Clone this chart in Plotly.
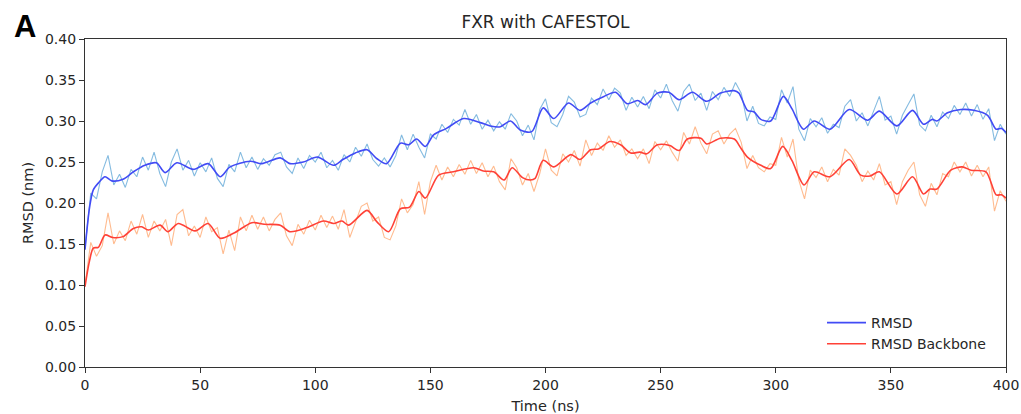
import plotly.graph_objects as go

# ---------------- data ----------------
raw_time = [i * 2.5 for i in range(161)]

rmsd_raw = [
    0.145, 0.212, 0.205, 0.238, 0.258, 0.222, 0.235, 0.219, 0.241, 0.232,
    0.256, 0.240, 0.262, 0.236, 0.220, 0.250, 0.266, 0.240, 0.252, 0.233,
    0.249, 0.238, 0.255, 0.230, 0.220, 0.247, 0.238, 0.262, 0.243, 0.256,
    0.241, 0.254, 0.246, 0.259, 0.262, 0.244, 0.236, 0.255, 0.242, 0.258,
    0.250, 0.262, 0.243, 0.252, 0.240, 0.259, 0.250, 0.268, 0.257, 0.272,
    0.253, 0.245, 0.255, 0.244, 0.258, 0.283, 0.265, 0.284, 0.268, 0.255,
    0.284, 0.278, 0.296, 0.286, 0.302, 0.295, 0.314, 0.296, 0.308, 0.290,
    0.301, 0.288, 0.299, 0.290, 0.309, 0.300, 0.282, 0.295, 0.277, 0.314,
    0.327, 0.298, 0.293, 0.308, 0.330, 0.323, 0.305, 0.308, 0.328, 0.320,
    0.339, 0.326, 0.340, 0.334, 0.313, 0.329, 0.317, 0.330, 0.315, 0.338,
    0.328, 0.345, 0.325, 0.312, 0.336, 0.345, 0.325, 0.334, 0.313, 0.336,
    0.326, 0.341, 0.330, 0.347, 0.334, 0.300, 0.318, 0.297, 0.294, 0.305,
    0.302, 0.338, 0.322, 0.342, 0.290, 0.276, 0.303, 0.293, 0.304, 0.285,
    0.296, 0.292, 0.318, 0.326, 0.300, 0.310, 0.294, 0.313, 0.330, 0.301,
    0.306, 0.284, 0.307, 0.320, 0.333, 0.295, 0.288, 0.307, 0.293, 0.311,
    0.303, 0.319, 0.308, 0.322, 0.306, 0.320, 0.302, 0.315, 0.276, 0.296,
    0.284,
]

backbone_raw = [
    0.100, 0.152, 0.135, 0.148, 0.188, 0.150, 0.166, 0.154, 0.178, 0.162,
    0.186, 0.158, 0.178, 0.166, 0.180, 0.148, 0.186, 0.192, 0.160, 0.172,
    0.158, 0.183, 0.165, 0.170, 0.138, 0.167, 0.142, 0.183, 0.166, 0.185,
    0.168, 0.183, 0.166, 0.180, 0.188, 0.160, 0.148, 0.174, 0.162, 0.179,
    0.167, 0.185, 0.170, 0.184, 0.168, 0.192, 0.158, 0.176, 0.196, 0.200,
    0.178, 0.183, 0.158, 0.155, 0.172, 0.205, 0.188, 0.198, 0.226, 0.186,
    0.226, 0.246, 0.228, 0.244, 0.232, 0.247, 0.235, 0.252, 0.236, 0.249,
    0.232, 0.245, 0.226, 0.216, 0.254, 0.243, 0.222, 0.236, 0.214, 0.236,
    0.266, 0.240, 0.233, 0.260, 0.250, 0.264, 0.245, 0.277, 0.258, 0.273,
    0.264, 0.282, 0.268, 0.277, 0.258, 0.266, 0.254, 0.266, 0.248, 0.275,
    0.265, 0.276, 0.262, 0.251, 0.286, 0.272, 0.293, 0.273, 0.260, 0.284,
    0.288, 0.272, 0.284, 0.291, 0.274, 0.242, 0.258, 0.243, 0.238, 0.248,
    0.246, 0.280, 0.256, 0.278, 0.228, 0.205, 0.240, 0.231, 0.244, 0.226,
    0.241, 0.234, 0.266, 0.258, 0.246, 0.226, 0.239, 0.228, 0.248, 0.222,
    0.226, 0.198, 0.226, 0.240, 0.250, 0.210, 0.196, 0.224, 0.210, 0.236,
    0.232, 0.250, 0.238, 0.250, 0.233, 0.246, 0.232, 0.244, 0.190, 0.215,
    0.202,
]

rmsd_smooth_time = [
    0, 2, 3.6, 6, 8.7, 11.6, 16.5, 21, 26, 31, 34.8, 39.9, 47, 53.5, 58.7,
    63, 71.7, 76.8, 84.8, 89, 94.8, 101, 108, 112, 117.4, 122.5, 126.8, 131,
    137, 140.6, 144, 147.8, 151.4, 157, 164.5, 171.7, 176, 180.4, 184.8, 189,
    194, 199, 203.6, 210, 215, 219.6, 225.4, 230.4, 235.5, 240, 243.5, 248.6,
    253.6, 258, 263.8, 270, 276, 281.9, 284, 287.7, 290.6, 293.5, 297.8,
    303.3, 307, 312, 316.7, 323.6, 331.9, 339.9, 345, 352.6, 359.4, 364.2,
    368, 370, 374.6, 380.4, 386, 392, 395.7, 398, 400,
]
rmsd_smooth = [
    0.143, 0.195, 0.216, 0.225, 0.232, 0.227, 0.229, 0.238, 0.246, 0.249,
    0.237, 0.249, 0.241, 0.248, 0.232, 0.244, 0.251, 0.248, 0.255, 0.248,
    0.250, 0.256, 0.246, 0.253, 0.261, 0.265, 0.254, 0.248, 0.273, 0.271,
    0.278, 0.269, 0.283, 0.291, 0.303, 0.298, 0.294, 0.293, 0.300, 0.289,
    0.287, 0.316, 0.303, 0.322, 0.313, 0.322, 0.330, 0.335, 0.321, 0.325,
    0.320, 0.334, 0.335, 0.326, 0.335, 0.324, 0.334, 0.337, 0.334, 0.313,
    0.311, 0.302, 0.300, 0.330, 0.315, 0.290, 0.300, 0.290, 0.314, 0.301,
    0.312, 0.294, 0.313, 0.296, 0.302, 0.300, 0.310, 0.314, 0.313, 0.307,
    0.290, 0.291, 0.286,
]

backbone_smooth_time = [
    0, 2, 3.6, 5.8, 8.7, 12, 16.5, 21, 24.6, 27.5, 32.6, 36, 40.5, 47.8,
    53.5, 58.7, 64.5, 72.5, 77.8, 84.8, 89, 96.4, 103.6, 108, 111.6, 114.5,
    122.5, 126.8, 131.9, 137, 141, 145, 147.8, 153.6, 160, 168.8, 173, 177.5,
    182, 185.5, 190, 193.5, 195.5, 199, 203.6, 211, 215, 219.6, 223, 228,
    232.6, 237, 241, 244, 248.6, 254, 258, 261.6, 267.5, 270, 276, 282,
    284.8, 287.7, 293.5, 297.8, 303, 307, 312.3, 316.7, 323.6, 331.9, 336.9,
    341, 345, 352.6, 359.4, 364.2, 367, 370, 376, 381, 384.8, 391.3, 395.7,
    398, 400,
]
backbone_smooth = [
    0.098, 0.130, 0.145, 0.146, 0.161, 0.158, 0.159, 0.169, 0.171, 0.167,
    0.173, 0.165, 0.175, 0.166, 0.175, 0.157, 0.163, 0.176, 0.174, 0.173,
    0.165, 0.170, 0.178, 0.175, 0.178, 0.173, 0.191, 0.177, 0.165, 0.193,
    0.195, 0.214, 0.206, 0.234, 0.238, 0.243, 0.239, 0.238, 0.228, 0.243,
    0.231, 0.228, 0.230, 0.252, 0.244, 0.259, 0.253, 0.265, 0.266, 0.275,
    0.271, 0.261, 0.262, 0.260, 0.271, 0.270, 0.264, 0.278, 0.279, 0.272,
    0.279, 0.278, 0.267, 0.256, 0.246, 0.242, 0.269, 0.252, 0.222, 0.238,
    0.232, 0.253, 0.234, 0.233, 0.238, 0.211, 0.232, 0.211, 0.217, 0.217,
    0.240, 0.244, 0.240, 0.238, 0.210, 0.210, 0.206,
]

x_ticks = [0, 50, 100, 150, 200, 250, 300, 350, 400]
y_ticks = [0.00, 0.05, 0.10, 0.15, 0.20, 0.25, 0.30, 0.35, 0.40]

title_text = "FXR with CAFESTOL"
panel_label = "A"
x_label = "Time (ns)"
y_label = "RMSD (nm)"
series_names = ["RMSD", "RMSD Backbone"]

# ---------------- figure ----------------
FONT = "DejaVu Sans"
L, R, T, B = 85, 1006, 39, 367
W, H = 1021, 414
fig = go.Figure()

fig.add_trace(go.Scatter(
    x=raw_time, y=rmsd_raw, mode="lines", showlegend=False,
    line=dict(color="rgba(110,175,218,0.85)", width=1.1), hoverinfo="skip"))
fig.add_trace(go.Scatter(
    x=raw_time, y=backbone_raw, mode="lines", showlegend=False,
    line=dict(color="rgba(255,170,115,0.8)", width=1.1), hoverinfo="skip"))
fig.add_trace(go.Scatter(
    x=rmsd_smooth_time, y=rmsd_smooth, mode="lines", name=series_names[0],
    legendgroup="a", line=dict(color="rgb(65,75,245)", width=1.6, shape="spline", smoothing=0.8)))
fig.add_trace(go.Scatter(
    x=backbone_smooth_time, y=backbone_smooth, mode="lines", name=series_names[1],
    legendgroup="b", line=dict(color="rgb(255,65,55)", width=1.6, shape="spline", smoothing=0.8)))

axis_common = dict(
    showline=True, linecolor="#333333", linewidth=1.3, mirror=True,
    ticks="outside", ticklen=5, tickwidth=1.2, tickcolor="#333333",
    showgrid=False, zeroline=False, automargin=False,
    tickfont=dict(family=FONT, size=14, color="#262626"),
)

fig.update_layout(
    width=W, height=H,
    margin=dict(l=L, r=W - R, t=T, b=H - B, autoexpand=False),
    paper_bgcolor="white", plot_bgcolor="white",
    font=dict(family=FONT, color="#262626"),
    title=dict(text=title_text, x=(L + R) / 2 / W, xanchor="center",
               y=1 - 22 / H, yanchor="middle",
               font=dict(family=FONT, size=17, color="#262626")),
    xaxis=dict(range=[0, 400], tickvals=x_ticks, ticktext=[str(v) for v in x_ticks],
               title=dict(text=x_label, font=dict(family=FONT, size=14.5)),
               **axis_common),
    yaxis=dict(range=[0, 0.40], tickvals=y_ticks, ticktext=[f"{v:.2f}" for v in y_ticks],
               title=dict(text=y_label, font=dict(family=FONT, size=14.5), standoff=7),
               **axis_common),
    legend=dict(x=(822 - L) / (R - L), xanchor="left", y=(B - 307) / (B - T), yanchor="top",
                bgcolor="rgba(255,255,255,0)", borderwidth=0,
                font=dict(family=FONT, size=14, color="#262626"),
                tracegroupgap=0, traceorder="grouped", itemwidth=39),
    showlegend=True,
)

fig.add_annotation(text=f"<b>{panel_label}</b>", xref="paper", yref="paper",
                   x=(12 - L) / (R - L), xanchor="left", y=1 + (T - 27) / (B - T), yanchor="middle",
                   showarrow=False, font=dict(family="Liberation Sans", size=31, color="black"))

fig.write_html("out.html")
